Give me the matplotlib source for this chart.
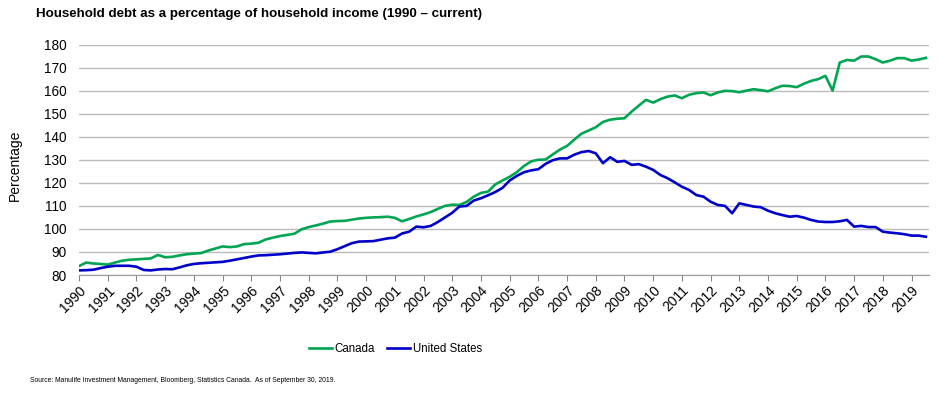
import numpy as np
import matplotlib.pyplot as plt

plt.rcParams["font.family"] = ["Liberation Sans", "DejaVu Sans"]

# quarterly, 1990Q1 - 2019Q3
canada = [
    83.9, 85.4, 85.0, 84.8,
    84.5, 85.4, 86.2, 86.6,
    86.8, 87.0, 87.2, 88.7,
    87.7, 87.9, 88.5, 89.0,
    89.3, 89.5, 90.6, 91.5,
    92.4, 92.1, 92.4, 93.4,
    93.6, 94.0, 95.4, 96.2,
    96.9, 97.4, 97.9, 99.8,
    100.8, 101.5, 102.3, 103.2,
    103.4, 103.5, 104.0, 104.5,
    104.8, 105.0, 105.1, 105.3,
    104.8, 103.3, 104.3, 105.4,
    106.3, 107.3, 108.7, 110.0,
    110.5, 110.4, 111.7, 114.0,
    115.6, 116.2, 119.3, 121.0,
    122.6, 124.6, 127.3, 129.3,
    130.0, 130.1, 132.3, 134.4,
    136.0, 138.7, 141.3, 142.7,
    144.1, 146.4, 147.4, 147.8,
    148.0, 150.9, 153.5, 156.0,
    154.8, 156.3, 157.4, 157.9,
    156.7, 158.2, 158.9, 159.2,
    158.0, 159.2, 159.9, 159.8,
    159.3, 160.0, 160.6, 160.2,
    159.7, 161.0, 162.1, 162.0,
    161.5, 163.0, 164.2, 165.0,
    166.4, 160.0, 172.2, 173.3,
    173.0, 174.8, 174.8, 173.6,
    172.2, 173.0, 174.1, 174.1,
    173.0, 173.5, 174.2,
]
united_states = [
    82.0, 82.1, 82.3, 83.0,
    83.6, 84.0, 84.0, 84.0,
    83.6, 82.2, 82.0, 82.4,
    82.6, 82.5, 83.3, 84.2,
    84.8, 85.1, 85.3, 85.5,
    85.7, 86.2, 86.8, 87.4,
    88.0, 88.5, 88.6, 88.8,
    89.0, 89.3, 89.6, 89.8,
    89.6, 89.4, 89.8, 90.1,
    91.2, 92.5, 93.8, 94.5,
    94.6, 94.7, 95.3, 95.9,
    96.2, 98.0, 98.8, 101.0,
    100.7, 101.3, 103.0, 105.0,
    107.0, 109.7, 110.0, 112.3,
    113.3, 114.6, 116.0, 117.8,
    121.0, 123.0, 124.6, 125.4,
    125.9, 128.2, 129.8, 130.6,
    130.6, 132.2, 133.3, 133.8,
    132.8, 128.5, 131.1, 129.1,
    129.5, 127.8, 128.1, 127.0,
    125.6, 123.4, 122.0, 120.2,
    118.3, 116.9, 114.7, 114.0,
    111.8, 110.4, 110.0, 106.8,
    111.1, 110.4, 109.7, 109.4,
    107.9, 106.8, 106.0, 105.3,
    105.6, 104.9, 103.9, 103.2,
    103.0, 103.0, 103.3, 103.9,
    101.0, 101.3, 100.8, 100.8,
    98.8, 98.4, 98.1, 97.7,
    97.1, 97.1, 96.6,
]
years = list(range(1990, 2020))

quarters = 1990 + np.arange(len(canada)) / 4

fig = plt.figure(figsize=(9.41, 3.94), dpi=100)
ax = fig.add_axes([0.084, 0.302, 0.903, 0.585])

ax.plot(quarters, canada, color="#00A551", linewidth=1.9, label="Canada")
ax.plot(quarters, united_states, color="#0000C8", linewidth=1.9, label="United States")

ax.set_xlim(1990, 2019.6)
ax.set_ylim(80, 180)
ax.set_yticks(range(80, 181, 10))
ax.set_xticks(years)
ax.set_xticklabels([str(y) for y in years], rotation=45, ha="right",
                   rotation_mode="anchor", fontsize=10)
ax.tick_params(axis="y", length=0, labelsize=9.8, pad=9)
ax.tick_params(axis="x", length=4, color="#888888", pad=2)

ax.grid(axis="y", color="#BBBBBB", linewidth=1)
ax.set_axisbelow(True)
for side in ["top", "right", "left"]:
    ax.spines[side].set_visible(False)
ax.spines["bottom"].set_color("#999999")

fig.text(0.008, 0.58, "Percentage", rotation=90, va="center", ha="left", fontsize=10)
fig.text(0.038, 0.965, "Household debt as a percentage of household income (1990 \u2013 current)",
         fontsize=9.6, fontweight="bold", va="center")

fig.legend(loc="center", bbox_to_anchor=(0.42, 0.114), ncol=2, frameon=False,
           fontsize=8.3, handlelength=2.0, handletextpad=0.2, columnspacing=1.1)

fig.text(0.032, 0.033, "Source: Manulife Investment Management, Bloomberg, Statistics Canada.  As of September 30, 2019.",
         fontsize=4.9, va="center")

fig.savefig("out.png", dpi=100)
plt.close(fig)
